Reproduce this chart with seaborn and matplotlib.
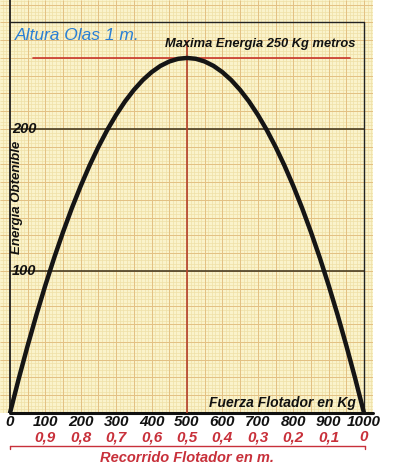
import matplotlib
matplotlib.use("Agg")
import matplotlib.pyplot as plt
import numpy as np
import pandas as pd
import seaborn as sns

# curva (fuerza en Kg, energia en Kg metros)
fuerza = [0, 25, 50, 75, 100, 125, 150, 175, 200, 225, 250, 275, 300, 325, 350, 375, 400, 425, 450, 475, 500,
          525, 550, 575, 600, 625, 650, 675, 700, 725, 750, 775, 800, 825, 850, 875, 900, 925, 950, 975, 1000]
energia = [0, 24.4, 47.5, 69.4, 90, 109.4, 127.5, 144.4, 160, 174.4, 187.5, 199.4, 210, 219.4, 227.5, 234.4,
           240, 244.4, 247.5, 249.4, 250, 249.4, 247.5, 244.4, 240, 234.4, 227.5, 219.4, 210, 199.4, 187.5,
           174.4, 160, 144.4, 127.5, 109.4, 90, 69.4, 47.5, 24.4, 0]

x_ticks = [0, 100, 200, 300, 400, 500, 600, 700, 800, 900, 1000]
x_labels = ["0", "100", "200", "300", "400", "500", "600", "700", "800", "900", "1000"]
recorrido_labels = ["", "0,9", "0,8", "0,7", "0,6", "0,5", "0,4", "0,3", "0,2", "0,1", "0"]
y_ticks = [100, 200]
y_labels = ["100", "200"]
energia_max = 250
fuerza_max = 500

df = pd.DataFrame({"fuerza": fuerza, "energia": energia})

sns.set_style("white")
plt.rcParams["font.family"] = ["Liberation Sans", "DejaVu Sans"]

fig = plt.figure(figsize=(4.19, 4.74), dpi=100)
ax = fig.add_axes([0, 61 / 474, 373 / 419, 413 / 474])
xmin, xmax = -28.2, 1025.4
ymin, ymax = 0, 290.8
top = 275.4
ax.set_xlim(xmin, xmax)
ax.set_ylim(ymin, ymax)
ax.set_facecolor("#faf3cb")
for s in ax.spines.values():
    s.set_visible(False)
ax.set_xticks([])
ax.set_yticks([])

# papel milimetrado
ax.vlines(np.arange(-20, 1030, 10), ymin, ymax, color="#efe0a6", lw=0.5, zorder=0)
ax.hlines(np.arange(0, 292, 2.5), xmin, xmax, color="#efe0a6", lw=0.5, zorder=0)
ax.vlines(np.arange(0, 1030, 50), ymin, ymax, color="#e3c083", lw=0.7, zorder=0)
ax.hlines(np.arange(0, 292, 12.5), xmin, xmax, color="#e3c083", lw=0.7, zorder=0)
ax.hlines(y_ticks, 0, 1000, color="#4a3d22", lw=1.2, zorder=1)

# marco
ax.plot([0, 0], [0, ymax], color="#222222", lw=1.3, zorder=2)
ax.plot([0, 1000], [top, top], color="#222222", lw=1.0, zorder=2)
ax.plot([1000, 1000], [0, top], color="#222222", lw=1.0, zorder=2)
ax.plot([0, xmax], [0, 0], color="#111111", lw=2.2, zorder=2, clip_on=False)

# lineas rojas del maximo
ax.plot([65, 960], [energia_max, energia_max], color="#c8352b", lw=1.2, zorder=2)
ax.plot([fuerza_max, fuerza_max], [0, 262], color="#b4402a", lw=1.2, zorder=2)

sns.lineplot(data=df, x="fuerza", y="energia", color="#151515", linewidth=3.2, ax=ax, zorder=3,
             solid_joinstyle="round", solid_capstyle="round")
ax.set_xlabel("")
ax.set_ylabel("")

bi = dict(fontweight="bold", fontstyle="italic")
ax.text(14, 265.5, "Altura Olas 1 m.", color="#2a7fd4", fontsize=12.5, fontstyle="italic",
        ha="left", va="center")
ax.text(706, 260, "Maxima Energia 250 Kg metros", color="#111111", fontsize=9.3, ha="center", va="center", **bi)
ax.text(20, 152, "Energia Obtenible", color="#111111", fontsize=9.5, rotation=90, ha="center", va="center", **bi)
ax.text(771, 7, "Fuerza Flotador en Kg", color="#111111", fontsize=10, ha="center", va="center", **bi)
for yt, yl in zip(y_ticks, y_labels):
    ax.text(6, yt, yl, color="#111111", fontsize=10.5, ha="left", va="center", **bi)

for xt, xl, rl in zip(x_ticks, x_labels, recorrido_labels):
    ax.text(xt, -6.5, xl, color="#111111", fontsize=11, ha="center", va="center", clip_on=False, **bi)
    ax.text(xt, -17, rl, color="#c8303a", fontsize=11, ha="center", va="center", clip_on=False, **bi)

ax.plot([0, 1003], [-23.2, -23.2], color="#c8303a", lw=1.0, clip_on=False)
ax.plot([0, 0], [-23.2, -25.5], color="#c8303a", lw=1.0, clip_on=False)
ax.plot([1003, 1003], [-23.2, -25.5], color="#c8303a", lw=1.0, clip_on=False)
ax.text(500, -31.7, "Recorrido Flotador en m.", color="#c8303a", fontsize=10.5, ha="center", va="center",
        clip_on=False, **bi)

fig.savefig("out.png", dpi=100, facecolor="white")
